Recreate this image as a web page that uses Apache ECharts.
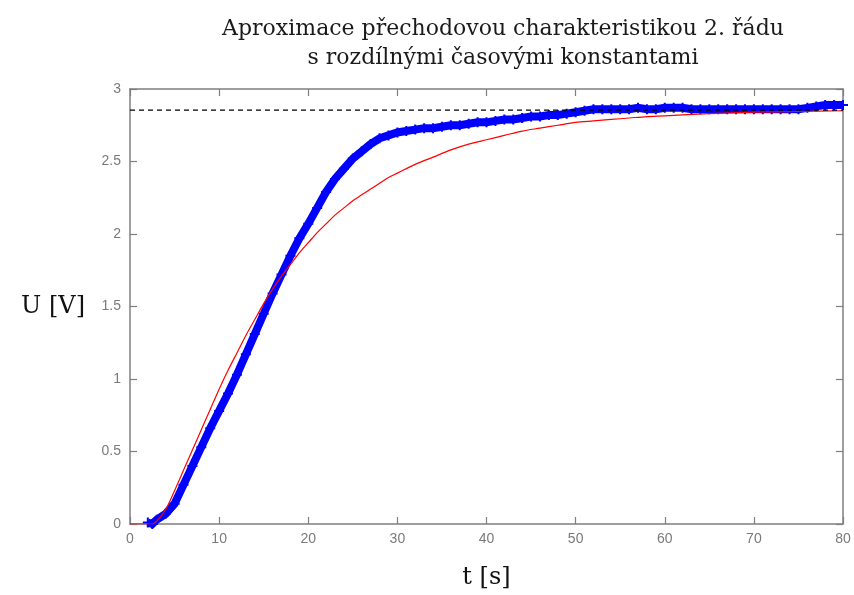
<!DOCTYPE html>
<html style="height: 100%">
<head>
	<meta charset="utf-8">
</head>
<body style="height: 100%; margin: 0; background: #fff">
<div id="container" style="width: 854px; height: 595px"></div>
<script src="https://cdn.jsdelivr.net/npm/echarts@6/dist/echarts.min.js"></script>
<script type="text/javascript">
	// model (red)
	var tModel = [0, 1, 2, 2.5, 3, 4, 5, 6, 7, 8, 9, 10, 11, 12, 13, 14, 15, 16, 17, 18, 19, 20,
		21, 22, 23, 24, 25, 26, 27, 28, 29, 30, 32, 34, 36, 38, 40, 42, 44, 46, 48, 50,
		52, 54, 56, 58, 60, 65, 70, 75, 80];
	var uModel = [0, 0, 0, 0, 0.02, 0.1, 0.23, 0.37, 0.51, 0.65, 0.79, 0.93, 1.06, 1.18, 1.3, 1.41, 1.52, 1.62, 1.71, 1.79, 1.87, 1.94,
		2.01, 2.07, 2.13, 2.18, 2.23, 2.27, 2.31, 2.35, 2.39, 2.42, 2.48, 2.53, 2.58, 2.62, 2.65, 2.68, 2.71, 2.73, 2.75, 2.77,
		2.78, 2.79, 2.8, 2.81, 2.815, 2.83, 2.84, 2.845, 2.85];

	// measured (blue)
	var tMeas = [2, 2.5, 3, 4, 5, 6, 7, 8, 9, 10, 11, 12, 13, 14, 15, 16, 17, 18, 19, 20,
		21, 22, 23, 24, 25, 26, 27, 28, 29, 30, 31, 32, 33, 34, 35, 36, 37, 38, 39, 40,
		41, 42, 43, 44, 45, 46, 47, 48, 49, 50, 51, 52, 53, 54, 55, 56, 57, 58, 59, 60,
		61, 62, 63, 64, 65, 66, 67, 68, 69, 70, 71, 72, 73, 74, 75, 76, 77, 78, 79, 80];
	var uMeas = [0.01, 0.0, 0.03, 0.07, 0.14, 0.27, 0.4, 0.53, 0.66, 0.78, 0.9, 1.03, 1.17, 1.31, 1.45, 1.59, 1.72, 1.85, 1.97, 2.07,
		2.18, 2.29, 2.38, 2.45, 2.52, 2.57, 2.62, 2.66, 2.68, 2.7, 2.71, 2.72, 2.73, 2.73, 2.74, 2.75, 2.75, 2.76, 2.77, 2.77,
		2.78, 2.79, 2.79, 2.8, 2.81, 2.81, 2.82, 2.82, 2.83, 2.84, 2.85, 2.86, 2.86, 2.86, 2.86, 2.86, 2.87, 2.86, 2.86, 2.87,
		2.87, 2.87, 2.86, 2.86, 2.86, 2.86, 2.86, 2.86, 2.86, 2.86, 2.86, 2.86, 2.86, 2.86, 2.86, 2.87, 2.88, 2.89, 2.89, 2.89];

	var uFinal = 2.855;

	function pairs(xs, ys) {
		var res = [];
		for (var i = 0; i < xs.length; i++) {
			res.push([xs[i], ys[i]]);
		}
		return res;
	}

	var dom = document.getElementById("container");
	var myChart = echarts.init(dom, null, {renderer: 'canvas'});

	var axisGray = '#7f7f7f';
	var lineStyleAx = {color: axisGray, width: 1.5};
	var tickStyle = {show: true, inside: true, length: 7, lineStyle: {color: axisGray, width: 1.2}};

	var option = {
		animation: false,
		title: {
			text: 'Aproximace přechodovou charakteristikou 2. řádu\ns rozdílnými časovými konstantami',
			left: 498,
			top: 10,
			textAlign: 'center',
			textStyle: {
				fontFamily: 'DejaVu Serif',
				fontSize: 22,
				fontWeight: 'normal',
				color: '#1a1a1a',
				lineHeight: 29
			}
		},
		grid: {left: 130, right: 11, top: 89, bottom: 71, containLabel: false, outerBoundsMode: 'none'},
		xAxis: [{
			type: 'value',
			min: 0, max: 80, interval: 10,
			name: 't [s]',
			nameLocation: 'middle',
			nameGap: 42,
			nameTextStyle: {fontFamily: 'DejaVu Serif', fontSize: 24, color: '#111'},
			axisLine: {show: true, onZero: false, lineStyle: lineStyleAx},
			axisTick: tickStyle,
			axisLabel: {color: '#7a7a7a', fontSize: 14, fontFamily: 'Liberation Sans', margin: 8},
			splitLine: {show: false}
		}, {
			type: 'value',
			position: 'top',
			min: 0, max: 80, interval: 10,
			axisLine: {show: true, onZero: false, lineStyle: lineStyleAx},
			axisTick: tickStyle,
			axisLabel: {show: false},
			splitLine: {show: false}
		}],
		yAxis: [{
			type: 'value',
			min: 0, max: 3, interval: 0.5,
			name: 'U [V]',
			nameLocation: 'middle',
			nameRotate: 0,
			nameGap: 45,
			nameTextStyle: {fontFamily: 'DejaVu Serif', fontSize: 24, color: '#111'},
			axisLine: {show: true, onZero: false, lineStyle: lineStyleAx},
			axisTick: tickStyle,
			axisLabel: {color: '#7a7a7a', fontSize: 14, fontFamily: 'Liberation Sans', margin: 9},
			splitLine: {show: false}
		}, {
			type: 'value',
			position: 'right',
			min: 0, max: 3, interval: 0.5,
			axisLine: {show: true, onZero: false, lineStyle: lineStyleAx},
			axisTick: tickStyle,
			axisLabel: {show: false},
			splitLine: {show: false}
		}],
		series: [{
			name: 'mereni',
			type: 'line',
			data: pairs(tMeas, uMeas),
			symbol: 'path://M4,0h2v4h4v2h-4v4h-2v-4h-4v-2h4z',
			symbolSize: 10,
			showSymbol: true,
			itemStyle: {color: '#0000ff'},
			lineStyle: {color: '#0000ff', width: 8, join: 'miter'},
			z: 2
		}, {
			name: 'model',
			type: 'line',
			data: pairs(tModel, uModel),
			symbol: 'none',
			smooth: 0.3,
			lineStyle: {color: '#ff0000', width: 1.2},
			z: 3
		}, {
			name: 'ustaleni',
			type: 'line',
			data: pairs([0, 80], [uFinal, uFinal]),
			symbol: 'none',
			lineStyle: {color: '#000', width: 1.2, type: [5, 4]},
			z: 4
		}]
	};

	myChart.setOption(option, true);
</script>
</body>
</html>
